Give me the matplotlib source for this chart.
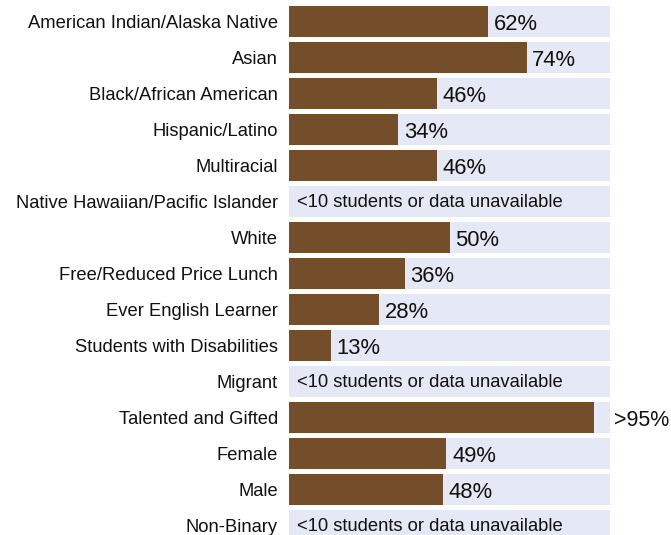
import matplotlib
matplotlib.use("Agg")
import matplotlib.pyplot as plt
from matplotlib.transforms import blended_transform_factory

plt.rcParams['font.family'] = ['Liberation Sans', 'DejaVu Sans']

groups = ["American Indian/Alaska Native", "Asian", "Black/African American",
          "Hispanic/Latino", "Multiracial", "Native Hawaiian/Pacific Islander",
          "White", "Free/Reduced Price Lunch", "Ever English Learner",
          "Students with Disabilities", "Migrant", "Talented and Gifted",
          "Female", "Male", "Non-Binary"]
# None = <10 students or data unavailable
values = [62, 74, 46, 34, 46, None, 50, 36, 28, 13, None, 95, 49, 48, None]
labels = ["62%", "74%", "46%", "34%", "46%", None, "50%", "36%", "28%", "13%",
          None, ">95%", "49%", "48%", None]

brown = "#744E2A"
lavender = "#E5E8F5"
na_text = "<10 students or data unavailable"

fig = plt.figure(figsize=(6.71, 5.35), dpi=100)
ax = fig.add_axes([289 / 671, 0, 321 / 671, 1])
edge = blended_transform_factory(fig.transFigure, ax.transData)

ypos = list(range(len(groups)))
ax.barh(ypos, [100] * len(groups), height=0.86, color=lavender, zorder=1)
for y, v, lab in zip(ypos, values, labels):
    if v is None:
        ax.text(2.5, y + 0.03, na_text, va="center", ha="left", fontsize=13.2,
                color="#111111", zorder=3)
        continue
    ax.barh(y, v, height=0.86, color=brown, zorder=2)
    if v >= 95:
        # label sits outside the background bar, against the figure edge
        ax.text(0.998, y + 0.07, lab, va="center", ha="right", fontsize=15.5,
                color="#111111", zorder=3, clip_on=False, transform=edge)
    else:
        ax.text(v + 1.8, y + 0.07, lab, va="center", ha="left", fontsize=15.8,
                color="#111111", zorder=3, clip_on=False)

ax.set_xlim(0, 100)
ax.set_ylim(14.264, -0.597)
ax.set_yticks(ypos)
ax.set_yticklabels(groups, fontsize=13.2, color="#111111")
ax.tick_params(axis="y", length=0, pad=8)
ax.set_xticks([])
for s in ax.spines.values():
    s.set_visible(False)

fig.savefig("out.png", dpi=100)
